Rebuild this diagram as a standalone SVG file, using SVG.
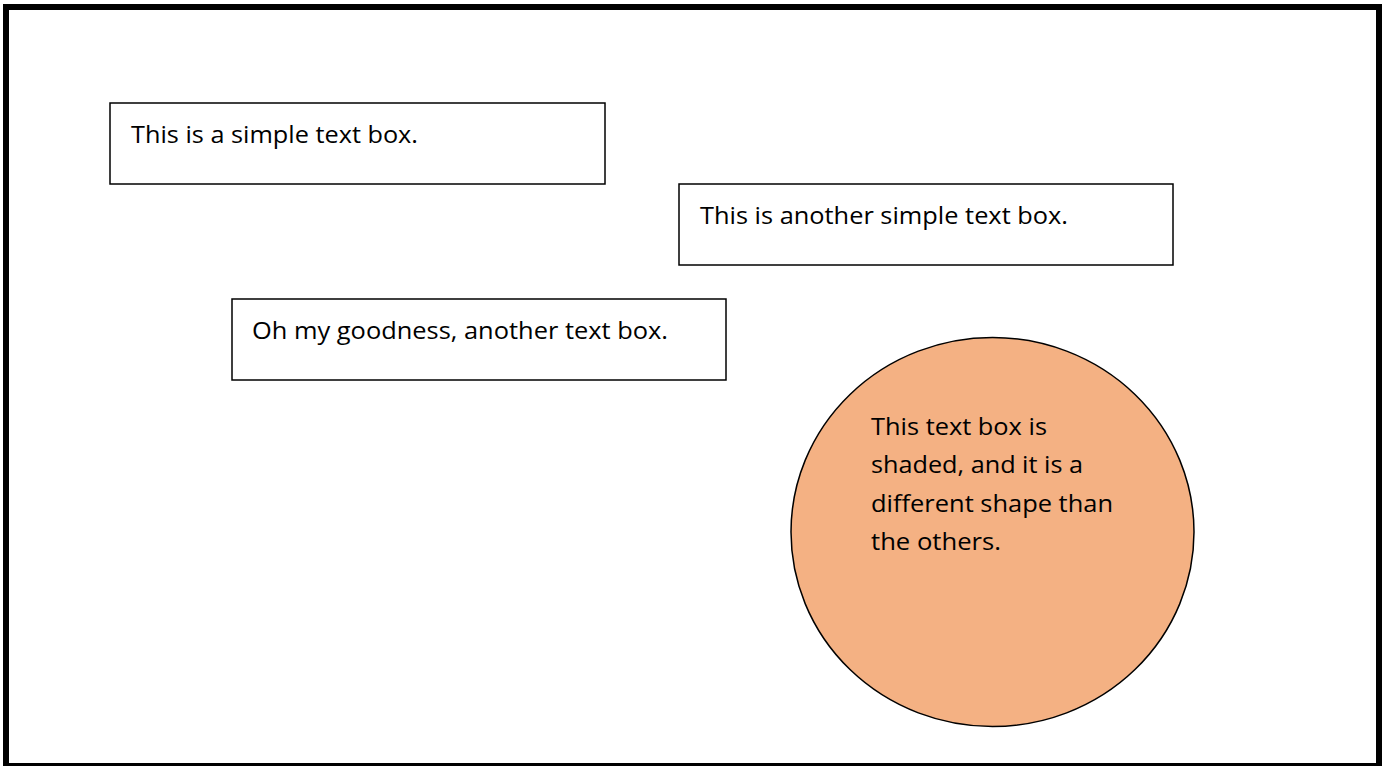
<svg xmlns="http://www.w3.org/2000/svg" width="1385" height="766" viewBox="0 0 1385 766">
<style>
.box{fill:#fff;stroke:#000;stroke-width:1.5}
.t{font-family:"Open Sans","Noto Sans","Liberation Sans",sans-serif;font-size:24px;fill:#000}
</style>
<rect x="0" y="0" width="1385" height="766" fill="#fff"/>
<rect id="frame" x="6" y="7" width="1373" height="759" fill="none" stroke="#000" stroke-width="6"/>
<g id="box1">
<rect class="box" x="110" y="103" width="495" height="81"/>
<text class="t" x="131" y="143" textLength="287" lengthAdjust="spacingAndGlyphs">This is a simple text box.</text>
</g>
<g id="box2">
<rect class="box" x="679" y="184" width="494" height="81"/>
<text class="t" x="700" y="224" textLength="368" lengthAdjust="spacingAndGlyphs">This is another simple text box.</text>
</g>
<g id="box3">
<rect class="box" x="232" y="299" width="494" height="81"/>
<text class="t" x="252" y="339" textLength="416" lengthAdjust="spacingAndGlyphs">Oh my goodness, another text box.</text>
</g>
<g id="circle">
<ellipse cx="992.5" cy="532" rx="201.5" ry="194.5" fill="#F4B183" stroke="#000" stroke-width="1.5"/>
<text class="t" x="871" y="435" textLength="176" lengthAdjust="spacingAndGlyphs">This text box is</text>
<text class="t" x="871" y="473" textLength="212" lengthAdjust="spacingAndGlyphs">shaded, and it is a</text>
<text class="t" x="871" y="512" textLength="242" lengthAdjust="spacingAndGlyphs">different shape than</text>
<text class="t" x="871" y="550" textLength="130" lengthAdjust="spacingAndGlyphs">the others.</text>
</g>
<g id="connectors"/>
</svg>
